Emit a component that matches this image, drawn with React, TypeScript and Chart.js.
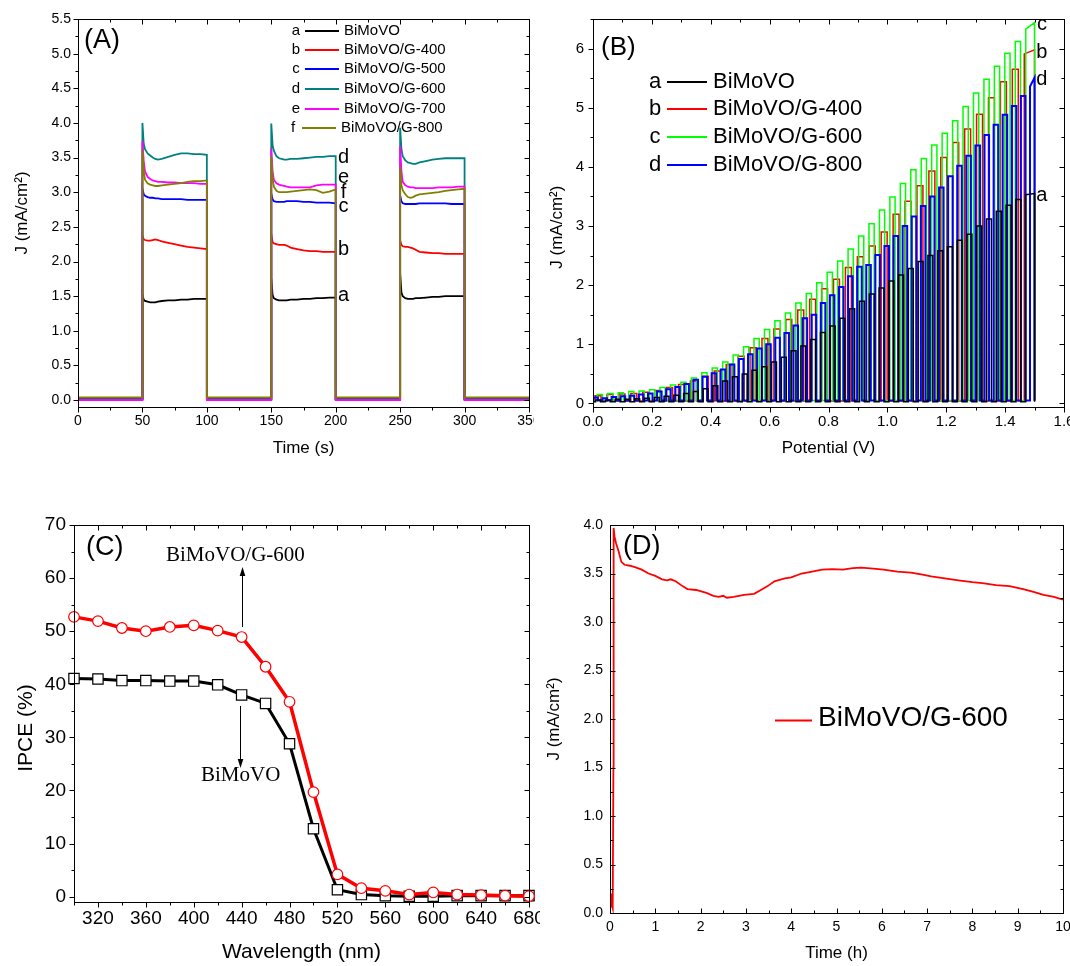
import React, { useEffect, useRef } from "react";
import { Chart, registerables } from "chart.js";

Chart.register(...registerables);

const FONT = 'Arial, "Liberation Sans", Helvetica, sans-serif';
const SERIF = '"Times New Roman", "Liberation Serif", Times, serif';

// ---------------- Panel A : chopped photocurrent vs time ----------------
const A_PERIOD_STARTS = [50, 150, 250];
const A_TIME_ON = [0, 1, 2, 4, 6, 8, 10, 12, 15, 20, 25, 30, 35, 40, 45, 50];
const A_T_END = 350;
const A_LETTERS = ["a", "b", "c", "d", "e", "f"];
const A_NAMES = ["BiMoVO", "BiMoVO/G-400", "BiMoVO/G-500", "BiMoVO/G-600", "BiMoVO/G-700", "BiMoVO/G-800"];
const A_COLORS = ["#000000", "#ff0000", "#0000ff", "#008080", "#ff00ff", "#808000"];
const A_DARK = [0.02, 0.02, 0.01, 0.01, 0.0, 0.04];
const A_TAG_Y = [1.51, 2.17, 2.8, 3.5, 3.21, 3.0];
const A_TAG_X = 206;

const A_BIMOVO = [
  [1.52, 1.45, 1.43, 1.42, 1.41, 1.41, 1.41, 1.42, 1.43, 1.44, 1.44, 1.45, 1.45, 1.46, 1.46, 1.46],
  [1.75, 1.52, 1.47, 1.45, 1.44, 1.44, 1.44, 1.44, 1.45, 1.45, 1.46, 1.46, 1.47, 1.47, 1.48, 1.48],
  [1.82, 1.55, 1.5, 1.47, 1.46, 1.46, 1.46, 1.47, 1.47, 1.48, 1.49, 1.49, 1.5, 1.5, 1.5, 1.5],
];
const A_G400 = [
  [2.37, 2.32, 2.31, 2.3, 2.3, 2.31, 2.32, 2.31, 2.29, 2.27, 2.25, 2.23, 2.21, 2.2, 2.19, 2.18],
  [2.4, 2.28, 2.26, 2.25, 2.24, 2.24, 2.24, 2.23, 2.2, 2.18, 2.16, 2.15, 2.15, 2.14, 2.14, 2.14],
  [2.3, 2.24, 2.22, 2.21, 2.21, 2.2, 2.19, 2.17, 2.14, 2.13, 2.12, 2.12, 2.11, 2.11, 2.11, 2.11],
];
const A_G500 = [
  [3.05, 2.97, 2.95, 2.93, 2.92, 2.92, 2.91, 2.91, 2.9, 2.9, 2.9, 2.9, 2.89, 2.89, 2.89, 2.89],
  [2.98, 2.9, 2.87, 2.86, 2.86, 2.86, 2.86, 2.87, 2.87, 2.87, 2.86, 2.86, 2.85, 2.85, 2.85, 2.84],
  [2.95, 2.87, 2.84, 2.83, 2.83, 2.83, 2.83, 2.83, 2.84, 2.84, 2.84, 2.84, 2.84, 2.83, 2.83, 2.83],
];
const A_G600 = [
  [4.0, 3.7, 3.62, 3.56, 3.53, 3.5, 3.48, 3.47, 3.48, 3.51, 3.54, 3.56, 3.56, 3.55, 3.55, 3.54],
  [3.99, 3.68, 3.6, 3.52, 3.49, 3.48, 3.47, 3.47, 3.48, 3.48, 3.49, 3.5, 3.51, 3.51, 3.52, 3.52],
  [3.93, 3.62, 3.52, 3.46, 3.43, 3.42, 3.41, 3.41, 3.43, 3.45, 3.47, 3.48, 3.49, 3.49, 3.49, 3.49],
];
const A_G700 = [
  [3.74, 3.45, 3.3, 3.22, 3.19, 3.17, 3.16, 3.15, 3.15, 3.14, 3.14, 3.13, 3.13, 3.13, 3.12, 3.12],
  [3.63, 3.3, 3.18, 3.13, 3.11, 3.1, 3.09, 3.08, 3.07, 3.07, 3.07, 3.07, 3.1, 3.11, 3.11, 3.11],
  [3.67, 3.3, 3.15, 3.1, 3.08, 3.07, 3.07, 3.06, 3.06, 3.06, 3.06, 3.07, 3.07, 3.07, 3.08, 3.08],
];
const A_G800 = [
  [3.62, 3.3, 3.18, 3.13, 3.11, 3.1, 3.09, 3.09, 3.1, 3.11, 3.12, 3.13, 3.15, 3.16, 3.16, 3.17],
  [3.52, 3.2, 3.08, 3.02, 3.0, 3.0, 3.0, 3.0, 3.01, 3.02, 3.03, 3.04, 3.03, 2.99, 3.01, 3.04],
  [3.37, 3.1, 3.03, 2.97, 2.93, 2.92, 2.93, 2.95, 2.97, 2.98, 2.99, 3.0, 3.02, 3.03, 3.04, 3.05],
];
const A_SERIES = [A_BIMOVO, A_G400, A_G500, A_G600, A_G700, A_G800];

// ---------------- Panel B : chopped LSV ----------------
const B_LETTERS = ["a", "b", "c", "d"];
const B_NAMES = ["BiMoVO", "BiMoVO/G-400", "BiMoVO/G-600", "BiMoVO/G-800"];
const B_COLORS = ["#000000", "#ff0000", "#00ff00", "#0000ff"];
const B_DARK = [0.03, 0.04, 0.05, 0.05];
const B_FIRST_ON = [0.009, 0.007, 0.0145, 0.0013]; // potential of first light-on edge (V)
const B_PERIOD = [0.0332, 0.0405, 0.0355, 0.0309]; // chopping period in potential (V)
const B_DRAW_ORDER = [1, 4, 3, 2]; // lower = drawn on top
const B_V_END = 1.5;
const B_END_TOP = [3.55, 5.98, 6.44, 5.51];
const B_TAG_Y = [3.52, 5.94, 6.4, 5.48];
const B_TAG_X = 1.525;

const B_BIMOVO = [0.06, 0.06, 0.07, 0.07, 0.08, 0.09, 0.1, 0.12, 0.14, 0.17, 0.2, 0.25, 0.3, 0.38, 0.45,
  0.5, 0.56, 0.62, 0.7, 0.78, 0.89, 0.97, 1.08, 1.2, 1.31, 1.44, 1.6, 1.73, 1.85, 1.95, 2.07, 2.17, 2.28,
  2.4, 2.5, 2.58, 2.65, 2.76, 2.86, 3.0, 3.12, 3.25, 3.35, 3.45, 3.53];
const B_G400 = [0.13, 0.15, 0.16, 0.17, 0.19, 0.22, 0.27, 0.32, 0.38, 0.46, 0.55, 0.66, 0.8, 0.94, 1.1,
  1.26, 1.42, 1.58, 1.76, 1.94, 2.1, 2.3, 2.48, 2.66, 2.9, 3.2, 3.42, 3.68, 3.93, 4.16, 4.41, 4.64, 4.89,
  5.17, 5.44, 5.65, 5.91];
const B_G600 = [0.15, 0.17, 0.18, 0.2, 0.21, 0.23, 0.27, 0.31, 0.36, 0.43, 0.52, 0.6, 0.7, 0.82, 0.96,
  1.1, 1.25, 1.4, 1.53, 1.7, 1.86, 2.04, 2.22, 2.41, 2.61, 2.83, 3.04, 3.27, 3.49, 3.72, 3.95, 4.14, 4.37,
  4.57, 4.78, 5.02, 5.25, 5.48, 5.7, 5.92, 6.12, 6.33];
const B_G800 = [0.1, 0.09, 0.11, 0.12, 0.13, 0.15, 0.17, 0.2, 0.24, 0.28, 0.33, 0.4, 0.45, 0.51, 0.575,
  0.66, 0.75, 0.83, 0.93, 1.0, 1.11, 1.19, 1.32, 1.44, 1.5, 1.7, 1.83, 1.97, 2.15, 2.31, 2.34, 2.51, 2.66,
  2.83, 3.0, 3.16, 3.34, 3.5, 3.65, 3.84, 4.02, 4.19, 4.36, 4.54, 4.71, 4.88, 5.03, 5.2, 5.36];
const B_SERIES = [B_BIMOVO, B_G400, B_G600, B_G800];

// ---------------- Panel C : IPCE ----------------
const C_WAVELENGTH = [300, 320, 340, 360, 380, 400, 420, 440, 460, 480, 500, 520, 540, 560, 580, 600, 620, 640, 660, 680];
const C_G600 = [52.7, 51.9, 50.6, 50.0, 50.8, 51.1, 50.1, 48.9, 43.3, 36.7, 19.7, 4.2, 1.6, 1.1, 0.4, 0.8, 0.4, 0.3, 0.2, 0.1];
const C_BIMOVO = [41.1, 41.0, 40.7, 40.7, 40.6, 40.6, 39.9, 38.0, 36.4, 28.8, 12.8, 1.3, 0.4, 0.2, 0.1, 0.1, 0.2, 0.2, 0.2, 0.2];

// ---------------- Panel D : stability ----------------
const D_TIME = [0, 0.01, 0.02, 0.03, 0.045, 0.055, 0.065, 0.075, 0.08, 0.1, 0.135, 0.19, 0.25, 0.32, 0.44,
  0.55, 0.7, 0.85, 1.0, 1.15, 1.26, 1.34, 1.45, 1.6, 1.71, 1.9, 2.13, 2.28, 2.4, 2.5, 2.58, 2.73, 2.96,
  3.18, 3.33, 3.48, 3.63, 3.86, 4.0, 4.23, 4.46, 4.68, 4.91, 5.14, 5.36, 5.55, 5.81, 6.04, 6.34, 6.64,
  6.87, 7.09, 7.39, 7.69, 8.0, 8.22, 8.52, 8.82, 9.12, 9.35, 9.57, 9.8, 10.0];
const D_J = [0.12, 0.18, 0.1, 0.2, 0.08, 0.15, 0.05, 1.5, 3.97, 3.88, 3.81, 3.73, 3.62, 3.59, 3.58,
  3.565, 3.54, 3.5, 3.475, 3.44, 3.43, 3.44, 3.42, 3.37, 3.34, 3.33, 3.3, 3.27, 3.26, 3.27, 3.25, 3.26,
  3.28, 3.29, 3.33, 3.37, 3.42, 3.45, 3.46, 3.5, 3.52, 3.54, 3.545, 3.54, 3.555, 3.56, 3.55, 3.54, 3.52,
  3.51, 3.49, 3.47, 3.45, 3.43, 3.41, 3.4, 3.38, 3.37, 3.34, 3.31, 3.28, 3.26, 3.23];

// ---------------- helpers ----------------
function isStep(v: number, step: number, origin = 0) {
  const q = (v - origin) / step;
  return Math.abs(q - Math.round(q)) < 1e-6;
}

interface AxisSpec {
  min: number; max: number; step: number; major: number; origin?: number; digits: number;
  font: number; pad: number; title: string; titleFont: number; titlePad: number; size: number;
}

function makeAxis(s: AxisSpec, horizontal: boolean) {
  return {
    type: "linear",
    position: horizontal ? "bottom" : "left",
    min: s.min,
    max: s.max,
    grid: { display: false, drawTicks: false },
    border: { display: false },
    ticks: {
      stepSize: s.step,
      autoSkip: false,
      includeBounds: false,
      maxTicksLimit: 1000,
      maxRotation: 0,
      minRotation: 0,
      padding: s.pad,
      color: "#000",
      font: { size: s.font, family: FONT },
      callback: (v: number) => (isStep(v, s.major, s.origin ?? 0) ? Number(v).toFixed(s.digits) : ""),
    },
    title: {
      display: true,
      text: s.title,
      color: "#000",
      font: { size: s.titleFont, family: FONT },
      padding: horizontal ? { top: 0, bottom: s.titlePad } : { top: s.titlePad, bottom: 0 },
    },
    afterFit: (sc: any) => {
      if (horizontal) sc.height = s.size;
      else sc.width = s.size;
    },
  };
}

interface FrameSpec { x: AxisSpec; y: AxisSpec; inward: boolean }

function framePlugin(id: string, f: FrameSpec) {
  return {
    id,
    afterDraw(chart: any) {
      const { ctx, chartArea: ca, scales } = chart;
      const xs = scales.x;
      const ys = scales.y;
      const L = Math.round(ca.left) + 0.5;
      const R = Math.round(ca.right) + 0.5;
      const T = Math.round(ca.top) + 0.5;
      const B = Math.round(ca.bottom) + 0.5;
      ctx.save();
      ctx.strokeStyle = "#000";
      ctx.lineWidth = 1;
      ctx.strokeRect(L, T, R - L, B - T);
      ctx.beginPath();
      for (const t of xs.ticks) {
        const v = t.value;
        if (!isStep(v, f.x.step)) continue;
        const major = isStep(v, f.x.major, f.x.origin ?? 0);
        const len = major ? 5 : 3;
        const px = Math.round(xs.getPixelForValue(v)) + 0.5;
        ctx.moveTo(px, B);
        ctx.lineTo(px, f.inward ? B - len : B + len);
        ctx.moveTo(px, T);
        ctx.lineTo(px, T + len);
      }
      for (const t of ys.ticks) {
        const v = t.value;
        if (!isStep(v, f.y.step)) continue;
        const major = isStep(v, f.y.major, f.y.origin ?? 0);
        const len = major ? 5 : 3;
        const py = Math.round(ys.getPixelForValue(v)) + 0.5;
        ctx.moveTo(L, py);
        ctx.lineTo(f.inward ? L + len : L - len, py);
        ctx.moveTo(R, py);
        ctx.lineTo(R - len, py);
      }
      ctx.stroke();
      ctx.restore();
    },
  };
}

type Item =
  | { kind: "text"; text: string; x: number; y: number; font: string; align?: CanvasTextAlign; color?: string }
  | { kind: "line"; x1: number; y1: number; x2: number; y2: number; color: string; width: number }
  | { kind: "arrow"; x: number; from: number; to: number };

function annotPlugin(id: string, items: (chart: any) => Item[]) {
  return {
    id,
    afterDraw(chart: any) {
      const ctx = chart.ctx as CanvasRenderingContext2D;
      for (const it of items(chart)) {
        ctx.save();
        if (it.kind === "text") {
          ctx.font = it.font;
          ctx.fillStyle = it.color ?? "#000";
          ctx.textAlign = it.align ?? "left";
          ctx.textBaseline = "middle";
          ctx.fillText(it.text, it.x, it.y);
        } else if (it.kind === "line") {
          ctx.strokeStyle = it.color;
          ctx.lineWidth = it.width;
          ctx.beginPath();
          ctx.moveTo(it.x1, it.y1);
          ctx.lineTo(it.x2, it.y2);
          ctx.stroke();
        } else {
          const dir = Math.sign(it.to - it.from);
          ctx.strokeStyle = "#000";
          ctx.fillStyle = "#000";
          ctx.lineWidth = 1;
          ctx.beginPath();
          ctx.moveTo(it.x + 0.5, it.from);
          ctx.lineTo(it.x + 0.5, it.to - dir * 6);
          ctx.stroke();
          ctx.beginPath();
          ctx.moveTo(it.x + 0.5, it.to);
          ctx.lineTo(it.x + 0.5 - 2.8, it.to - dir * 9);
          ctx.lineTo(it.x + 0.5 + 2.8, it.to - dir * 9);
          ctx.closePath();
          ctx.fill();
        }
        ctx.restore();
      }
    },
  };
}

interface PanelSpec {
  left: number; top: number; boxW: number; boxH: number;
  W: number; H: number; T: number; R: number;
  build: () => any;
}

function Panel({ spec }: { spec: PanelSpec }) {
  const ref = useRef<HTMLCanvasElement | null>(null);
  useEffect(() => {
    if (!ref.current) return;
    const chart = new Chart(ref.current, spec.build());
    return () => chart.destroy();
  }, []);
  return (
    <div style={{ position: "absolute", left: spec.left, top: spec.top, width: spec.boxW, height: spec.boxH, overflow: "hidden" }}>
      <canvas ref={ref} width={spec.W} height={spec.H} style={{ width: spec.W, height: spec.H, display: "block" }} />
    </div>
  );
}

function baseOptions(W: number, T: number, R: number, x: AxisSpec, y: AxisSpec) {
  return {
    responsive: false,
    maintainAspectRatio: false,
    animation: false as const,
    events: [],
    layout: { padding: { left: 0, top: T, right: W - R, bottom: 0 } },
    plugins: { legend: { display: false }, tooltip: { enabled: false }, title: { display: false } },
    elements: { line: { tension: 0 }, point: { radius: 0 } },
    scales: { x: makeAxis(x, true), y: makeAxis(y, false) },
  };
}

// ---------- Panel A ----------
const A_X: AxisSpec = { min: 0, max: 350, step: 25, major: 50, digits: 0, font: 14, pad: 6, title: "Time (s)", titleFont: 17, titlePad: 11, size: 63 };
const A_Y: AxisSpec = { min: -0.1, max: 5.5, step: 0.25, major: 0.5, digits: 1, font: 14, pad: 7, title: "J (mA/cm²)", titleFont: 17, titlePad: 12.3, size: 78 };

function buildA() {
  const datasets = A_SERIES.map((periods, i) => {
    const dark = A_DARK[i];
    const pts: { x: number; y: number }[] = [{ x: 0, y: dark }];
    periods.forEach((vals, p) => {
      const t0 = A_PERIOD_STARTS[p];
      pts.push({ x: t0, y: dark });
      vals.forEach((v, j) => pts.push({ x: t0 + A_TIME_ON[j], y: v }));
      pts.push({ x: t0 + A_TIME_ON[A_TIME_ON.length - 1], y: dark });
    });
    pts.push({ x: A_T_END, y: dark });
    return {
      label: A_NAMES[i],
      data: pts,
      borderColor: A_COLORS[i],
      borderWidth: 1.8,
      pointRadius: 0,
      fill: false,
      order: A_SERIES.length - i,
    };
  });
  const items = (chart: any): Item[] => {
    const out: Item[] = [{ kind: "text", text: "(A)", x: 84, y: 41, font: `27px ${FONT}` }];
    const rows = [31, 50, 69, 89, 109, 128];
    A_NAMES.forEach((n, i) => {
      const shift = i === 5 ? -3 : 0;
      out.push({ kind: "text", text: A_LETTERS[i], x: 296 + shift, y: rows[i], font: `15px ${FONT}`, align: "center" });
      out.push({ kind: "line", x1: 305 + shift, y1: rows[i], x2: 339 + shift, y2: rows[i], color: A_COLORS[i], width: 2 });
      out.push({ kind: "text", text: n, x: 344 + shift, y: rows[i], font: `15px ${FONT}` });
    });
    const xs = chart.scales.x;
    const ys = chart.scales.y;
    A_LETTERS.forEach((l, i) => {
      out.push({ kind: "text", text: l, x: xs.getPixelForValue(A_TAG_X), y: ys.getPixelForValue(A_TAG_Y[i]), font: `20px ${FONT}`, align: "center" });
    });
    return out;
  };
  return {
    type: "line",
    data: { datasets },
    options: baseOptions(574, 19, 529, A_X, A_Y),
    plugins: [framePlugin("frameA", { x: A_X, y: A_Y, inward: false }), annotPlugin("annotA", items)],
  };
}

// ---------- Panel B ----------
const B_X: AxisSpec = { min: 0, max: 1.6, step: 0.1, major: 0.2, digits: 1, font: 15, pad: 6, title: "Potential (V)", titleFont: 17, titlePad: 11, size: 63 };
const B_Y: AxisSpec = { min: -0.06, max: 6.5, step: 0.5, major: 1, digits: 0, font: 15, pad: 9, title: "J (mA/cm²)      ", titleFont: 17, titlePad: 13.5, size: 59 };

function buildB() {
  const datasets = B_SERIES.map((tops, i) => {
    const dark = B_DARK[i];
    const pts: { x: number; y: number }[] = [{ x: 0, y: dark }];
    tops.forEach((top, k) => {
      const on = B_FIRST_ON[i] + k * B_PERIOD[i];
      const last = k === tops.length - 1;
      const off = last ? B_V_END : on + B_PERIOD[i] / 2;
      pts.push({ x: on, y: dark }, { x: on, y: top }, { x: off, y: last ? B_END_TOP[i] : top }, { x: off, y: dark });
    });
    return {
      label: B_NAMES[i],
      data: pts,
      borderColor: B_COLORS[i],
      borderWidth: i === 3 ? 2 : 1.5,
      pointRadius: 0,
      fill: false,
      order: B_DRAW_ORDER[i],
    };
  });
  const items = (chart: any): Item[] => {
    const out: Item[] = [{ kind: "text", text: "(B)", x: 67, y: 48, font: `26px ${FONT}` }];
    const rows = [82, 109, 137, 165];
    B_NAMES.forEach((n, i) => {
      out.push({ kind: "text", text: B_LETTERS[i], x: 121, y: rows[i], font: `22px ${FONT}`, align: "center" });
      out.push({ kind: "line", x1: 133, y1: rows[i], x2: 173, y2: rows[i], color: B_COLORS[i], width: 2 });
      out.push({ kind: "text", text: n, x: 179, y: rows[i], font: `22px ${FONT}` });
    });
    const xs = chart.scales.x;
    const ys = chart.scales.y;
    B_LETTERS.forEach((l, i) => {
      out.push({ kind: "text", text: l, x: xs.getPixelForValue(B_TAG_X), y: ys.getPixelForValue(B_TAG_Y[i]), font: `20px ${FONT}`, align: "center" });
    });
    return out;
  };
  return {
    type: "line",
    data: { datasets },
    options: baseOptions(576, 19, 530, B_X, B_Y),
    plugins: [framePlugin("frameB", { x: B_X, y: B_Y, inward: false }), annotPlugin("annotB", items)],
  };
}

// ---------- Panel C ----------
const C_X: AxisSpec = { min: 300, max: 680, step: 20, major: 40, origin: 320, digits: 0, font: 19, pad: 5.5, title: "Wavelength (nm)", titleFont: 21, titlePad: 1.4, size: 64 };
const C_Y: AxisSpec = { min: -1, max: 70, step: 5, major: 10, digits: 0, font: 19, pad: 8, title: "IPCE (%)     ", titleFont: 21, titlePad: 13.4, size: 74 };

function buildC() {
  const datasets = [
    {
      label: "BiMoVO/G-600",
      data: C_WAVELENGTH.map((w, i) => ({ x: w, y: C_G600[i] })),
      borderColor: "#ff0000",
      borderWidth: 3.5,
      pointStyle: "circle",
      pointRadius: 5.3,
      pointBorderWidth: 1.2,
      pointBorderColor: "#ff0000",
      pointBackgroundColor: "#ffffff",
      clip: false,
      order: 1,
    },
    {
      label: "BiMoVO",
      data: C_WAVELENGTH.map((w, i) => ({ x: w, y: C_BIMOVO[i] })),
      borderColor: "#000000",
      borderWidth: 3,
      pointStyle: "rect",
      pointRadius: 7.3,
      pointBorderWidth: 1.2,
      pointBorderColor: "#000000",
      pointBackgroundColor: "#ffffff",
      clip: false,
      order: 2,
    },
  ];
  const items = (): Item[] => [
    { kind: "text", text: "(C)", x: 86, y: 68, font: `27px ${FONT}` },
    { kind: "text", text: "BiMoVO/G-600", x: 166, y: 75, font: `21px ${SERIF}` },
    { kind: "arrow", x: 242, from: 147, to: 87 },
    { kind: "text", text: "BiMoVO", x: 201, y: 295, font: `21px ${SERIF}` },
    { kind: "arrow", x: 240, from: 226, to: 288 },
  ];
  return {
    type: "line",
    data: { datasets },
    options: baseOptions(580, 45, 529, C_X, C_Y),
    plugins: [framePlugin("frameC", { x: C_X, y: C_Y, inward: false }), annotPlugin("annotC", items)],
  };
}

// ---------- Panel D ----------
const D_X: AxisSpec = { min: 0, max: 10, step: 0.5, major: 1, digits: 0, font: 14, pad: 6, title: "Time (h)", titleFont: 17, titlePad: 2.8, size: 53 };
const D_Y: AxisSpec = { min: 0, max: 4, step: 0.25, major: 0.5, digits: 1, font: 14, pad: 7, title: "J (mA/cm²)", titleFont: 17, titlePad: 4.5, size: 70 };

function buildD() {
  const datasets = [
    {
      label: "BiMoVO/G-600",
      data: D_TIME.map((t, i) => ({ x: t, y: D_J[i] })),
      borderColor: "#ff0000",
      borderWidth: 1.8,
      pointRadius: 0,
      fill: false,
    },
  ];
  const items = (): Item[] => [
    { kind: "text", text: "(D)", x: 83, y: 67, font: `27px ${FONT}` },
    { kind: "line", x1: 235, y1: 240.5, x2: 272, y2: 240.5, color: "#ff0000", width: 2 },
    { kind: "text", text: "BiMoVO/G-600", x: 278, y: 238, font: `28px ${FONT}` },
  ];
  return {
    type: "line",
    data: { datasets },
    options: baseOptions(570, 45, 523, D_X, D_Y),
    plugins: [framePlugin("frameD", { x: D_X, y: D_Y, inward: true }), annotPlugin("annotD", items)],
  };
}

const PANELS: PanelSpec[] = [
  { left: 0, top: 0, boxW: 534, boxH: 470, W: 574, H: 470, T: 19, R: 529, build: buildA },
  { left: 534, top: 0, boxW: 536, boxH: 470, W: 576, H: 470, T: 19, R: 530, build: buildB },
  { left: 0, top: 480, boxW: 540, boxH: 486, W: 580, H: 486, T: 45, R: 529, build: buildC },
  { left: 540, top: 480, boxW: 530, boxH: 486, W: 570, H: 486, T: 45, R: 523, build: buildD },
];

export default function App() {
  return (
    <div style={{ position: "absolute", left: 0, top: 0, width: 1070, height: 966, background: "#fff", overflow: "hidden" }}>
      {PANELS.map((p, i) => (
        <Panel key={i} spec={p} />
      ))}
    </div>
  );
}
